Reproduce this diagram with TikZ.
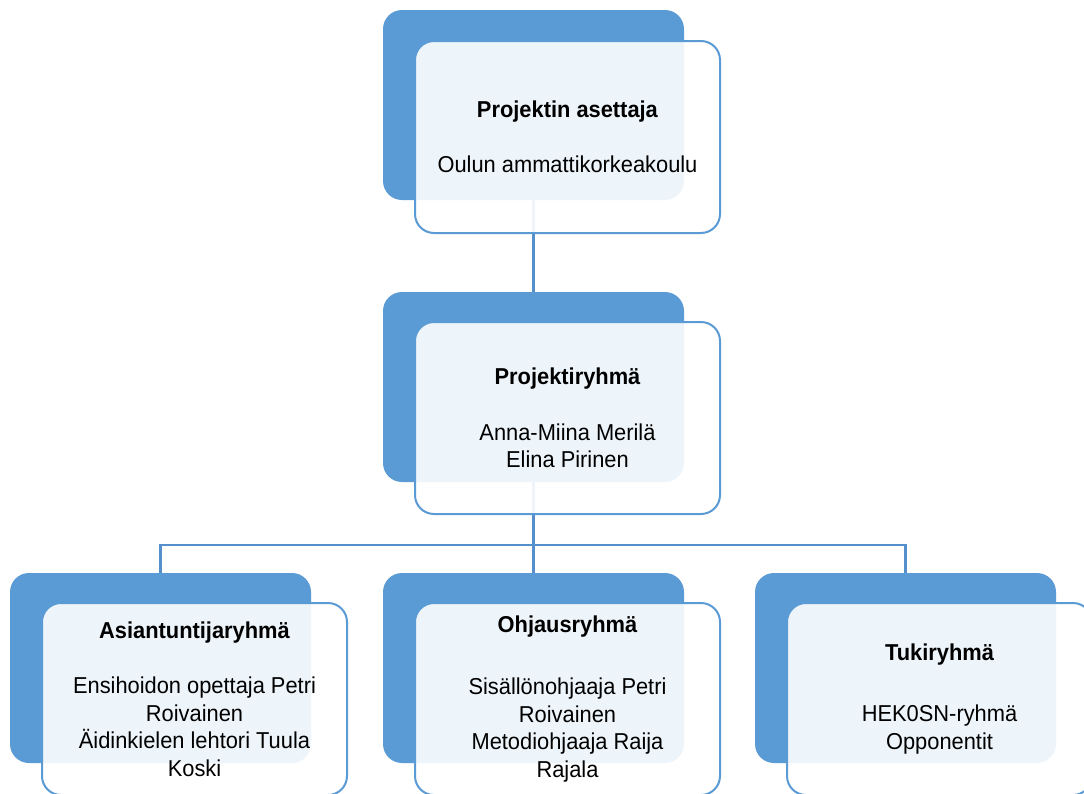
\documentclass[tikz,border=0pt]{standalone}
\usepackage{fontspec}
\setmainfont[FakeStretch=0.95]{Liberation Sans}
\definecolor{boxblue}{HTML}{5B9BD5}
\definecolor{lineblue}{HTML}{5590CC}
\tikzset{
  backbox/.style={fill=boxblue, draw=none, rounded corners=19pt, minimum width=301pt, minimum height=190pt, inner sep=0pt, outer sep=0pt, anchor=north west},
  frontbox/.style={fill=white, fill opacity=0.9, text opacity=1, draw=boxblue, line width=2pt, rounded corners=19pt, minimum width=305pt, minimum height=192pt, inner sep=0pt, outer sep=0pt, anchor=north west, align=center, font=\fontsize{23}{27.5}\selectfont},
  conn/.style={draw=lineblue, line width=2.6pt}
}
\begin{document}
\begin{tikzpicture}[x=1pt,y=-1pt]
\useasboundingbox (0,0) rectangle (1084,793);
\clip (0,0) rectangle (1084,793);
\fill[white] (0,0) rectangle (1084,793);
% back boxes
\node[backbox] (b1) at (383,10) {};
\node[backbox] (b2) at (383,292) {};
\node[backbox] (b3) at (10,573) {};
\node[backbox] (b4) at (383,573) {};
\node[backbox] (b5) at (755,573) {};
% connectors
\coordinate (j) at (533.5,545);
\draw[conn] (b1.south) -- (b2.north);
\draw[conn] (b2.south) -- (b4.north);
\draw[conn] (b3.north) |- (j) -| (b5.north);
% front boxes
\node[frontbox] (f1) at (415,41) {\textbf{Projektin asettaja}\\[28pt]Oulun ammattikorkeakoulu};
\node[frontbox] (f2) at (415,322) {\textbf{Projektiryhmä}\\[28pt]Anna-Miina Merilä\\Elina Pirinen};
\node[frontbox] (f3) at (42,603) {\textbf{Asiantuntijaryhmä}\\[28pt]Ensihoidon opettaja Petri\\Roivainen\\Äidinkielen lehtori Tuula\\Koski};
\node[frontbox] (f4) at (415,603) {\textbf{Ohjausryhmä}\\[35pt]Sisällönohjaaja Petri\\Roivainen\\Metodiohjaaja Raija\\Rajala};
\node[frontbox] (f5) at (787,603) {\textbf{Tukiryhmä}\\[34pt]HEK0SN-ryhmä\\Opponentit};
\end{tikzpicture}
\end{document}
